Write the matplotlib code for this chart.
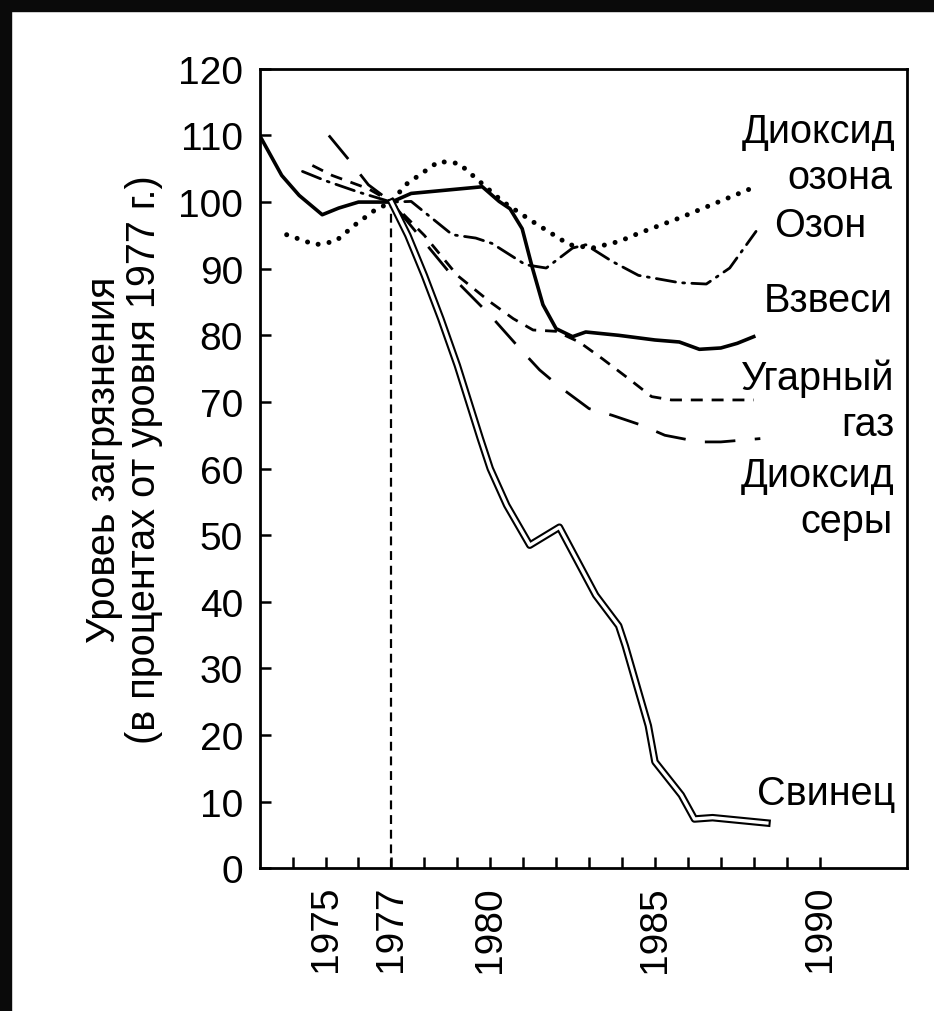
import matplotlib
matplotlib.use('Agg')
import matplotlib.pyplot as plt
from matplotlib.patches import Rectangle

plt.rcParams['font.family'] = ['Liberation Sans', 'DejaVu Sans']

# values (year, % of 1977 level)
lead_x = [1977, 1977.5, 1978, 1978.5, 1979, 1979.35, 1979.7, 1980, 1980.5, 1981.2, 1982.1,
          1983.2, 1983.9, 1984.1, 1984.8, 1985, 1985.8, 1986.2, 1986.75, 1988.4]
lead_y = [100, 95, 89, 82.5, 75.5, 70, 64.5, 60, 54.5, 48.5, 51.2,
          41, 36.4, 33.4, 21.4, 16, 11, 7.4, 7.6, 6.8]

susp_x = [1973, 1973.67, 1974.2, 1974.9, 1975.4, 1976, 1977, 1977.6, 1979.76, 1980.27,
          1980.6, 1980.97, 1981.27, 1981.6, 1982, 1982.5, 1982.9, 1983.9, 1985, 1985.74,
          1986.35, 1987, 1987.5, 1988]
susp_y = [110, 104, 101, 98.1, 99.1, 100, 100, 101.3, 102.3, 100.1,
          99, 96, 90.3, 84.6, 81, 79.8, 80.5, 80, 79.3, 79,
          77.9, 78.1, 78.8, 79.8]

no2_x = [1973.82, 1974.69, 1975.3, 1975.9, 1976.5, 1977, 1977.43, 1978.44, 1979.05, 1979.56,
         1980.37, 1981.28, 1982.4, 1983.1, 1983.92, 1984.5, 1985.74, 1987.9]
no2_y = [95.1, 93.6, 94.1, 96.6, 98.8, 100, 102.6, 106.1, 105.8, 103.6,
         100.1, 97.1, 93.6, 93.1, 94.1, 95.3, 97.6, 102]

ozone_x = [1974.3, 1975, 1976, 1977, 1977.6, 1978.85, 1979.56, 1980.05, 1981.07, 1981.7,
           1982.5, 1982.9, 1983.7, 1984.5, 1985.74, 1986.56, 1987.27, 1988.07]
ozone_y = [104.6, 103.2, 101.5, 100, 100.1, 95.1, 94.6, 93.8, 90.6, 90.1,
           93.1, 93.6, 91.1, 89, 87.9, 87.7, 90.1, 95.6]

co_x = [1974.6, 1975.2, 1976.3, 1977, 1978, 1979, 1980, 1980.7, 1981.3, 1982,
        1982.7, 1983.4, 1984.2, 1984.9, 1985.5, 1988]
co_y = [105.5, 104, 102, 100, 95, 89, 85, 82.5, 80.8, 80.6,
        79, 76.5, 73.5, 70.8, 70.3, 70.3]

so2_x = [1975.1, 1975.7, 1976.3, 1977, 1978, 1979, 1980, 1980.9, 1981.5, 1982.1,
         1983, 1983.7, 1984.6, 1985.3, 1986.35, 1987, 1988.2]
so2_y = [110, 106.4, 102.6, 100, 94, 88, 83, 78, 74.8, 72.3,
         69, 68, 66.5, 65, 64, 64, 64.5]

# right-hand labels: text, x of right edge, baseline y
label_text = ['Диоксид', 'озона', 'Озон', 'Взвеси', 'Угарный', 'газ', 'Диоксид', 'серы', 'Свинец']
label_x = [1992.3, 1992.2, 1991.43, 1992.22, 1992.28, 1992.28, 1992.28, 1992.22, 1992.3]
label_y = [109.0, 102.1, 94.9, 83.6, 72.0, 65.0, 57.4, 50.5, 9.6]

year_ticks = list(range(1974, 1991))
year_labels = ['1975', '1977', '1980', '1985', '1990']
y_ticks = list(range(0, 121, 10))

fig = plt.figure(figsize=(9.34, 10.12), dpi=100)
fig.patch.set_facecolor('white')
# dark scan border at the top and on the left
fig.patches.append(Rectangle((0, 1 - 12 / 1012), 1, 12 / 1012, transform=fig.transFigure,
                             color='#0a0a0a', zorder=0))
fig.patches.append(Rectangle((0, 0), 11 / 934, 1, transform=fig.transFigure,
                             color='#0a0a0a', zorder=0))

ax = fig.add_axes([0.278, 0.141, 0.693, 0.790])

ax.axvline(1977, ymin=0, ymax=100 / 120, color='black', lw=1.6, linestyle=(0, (4, 2.6)))

ax.plot(no2_x, no2_y, color='black', lw=3.6, linestyle=(0, (0.01, 2.2)),
        dash_capstyle='round')
ax.plot(ozone_x, ozone_y, color='black', lw=2.0, linestyle=(0, (7, 2.6, 0.7, 2.6)),
        dash_capstyle='round')
ax.plot(co_x, co_y, color='black', lw=2.0, linestyle=(0, (4.3, 3.2)))
ax.plot(so2_x, so2_y, color='black', lw=2.0, linestyle=(0, (11, 7)))
ax.plot(susp_x, susp_y, color='black', lw=2.6, solid_joinstyle='round')
ax.plot(lead_x, lead_y, color='black', lw=5.4, solid_joinstyle='round')
ax.plot(lead_x, lead_y, color='white', lw=2.4, solid_joinstyle='round')

for t, x, y in zip(label_text, label_x, label_y):
    ax.text(x, y, t, ha='right', va='baseline', fontsize=28.5)

ax.set_xlim(1973, 1992.65)
ax.set_ylim(0, 120)
ax.set_xticks(year_ticks)
ax.set_xticklabels([str(y) if str(y) in year_labels else '' for y in year_ticks],
                   rotation=90)
ax.set_yticks(y_ticks)
ax.tick_params(axis='both', direction='in', length=8, width=1.8, labelsize=28, pad=12)
for s in ax.spines.values():
    s.set_linewidth(2.0)

ax.set_ylabel('Уровеь загрязнения\n(в процентах от уровня 1977 г.)', fontsize=28.5,
              linespacing=1.05)
ax.yaxis.set_label_coords(-0.15, 0.512)

fig.savefig('out.png', dpi=100, facecolor='white')
